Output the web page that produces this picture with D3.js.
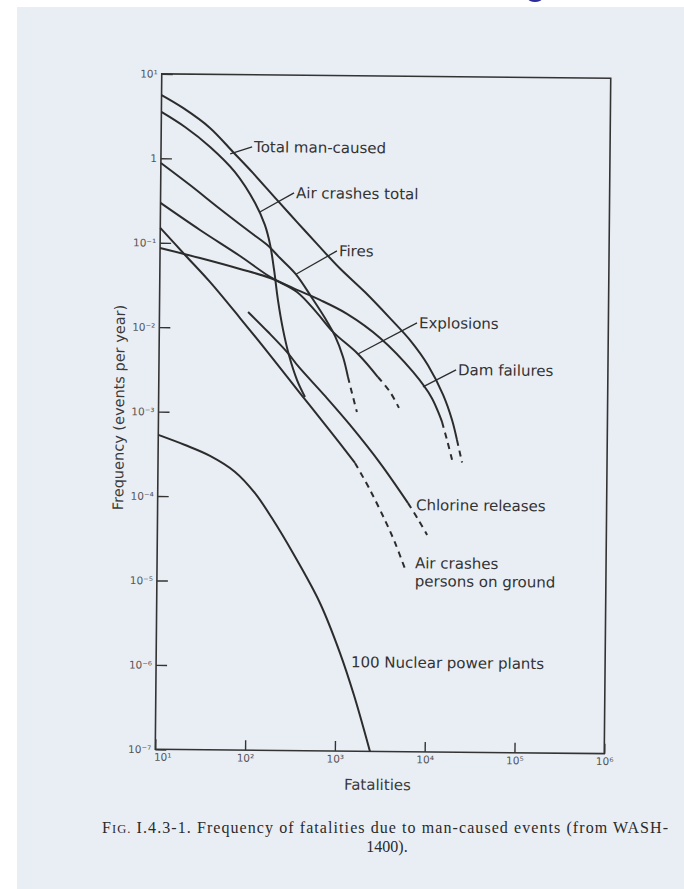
<!DOCTYPE html>
<html>
<head>
<meta charset="utf-8">
<script src="https://cdn.jsdelivr.net/npm/d3@7"></script>
<style>
  body { margin: 0; background: #fff; }
  svg { display: block; }
</style>
</head>
<body>
<svg width="684" height="889"></svg>
<script>
// axis ticks
const xTicks = [1e1, 1e2, 1e3, 1e4, 1e5, 1e6];
const xTickLabels = ["10¹", "10²", "10³", "10⁴", "10⁵", "10⁶"];
const yTicks = [1e1, 1, 1e-1, 1e-2, 1e-3, 1e-4, 1e-5, 1e-6, 1e-7];
const yTickLabels = ["10¹", "1", "10⁻¹", "10⁻²", "10⁻³", "10⁻⁴", "10⁻⁵", "10⁻⁶", "10⁻⁷"];

// curves as [fatalities, frequency]; the *Tail arrays are the dashed ends
const totalManCaused = [[10, 5.6], [17.4, 3.97], [34.9, 2.32], [63.4, 1.21], [106, 0.687], [198, 0.331],
  [333, 0.182], [558, 0.101], [1000, 0.0526], [1930, 0.0275], [3690, 0.0136], [6210, 0.0075],
  [9900, 0.0038], [14700, 0.0017], [18600, 8.6e-4], [21200, 5.0e-4]];
const totalManCausedTail = [[21200, 5.0e-4], [24300, 2.7e-4]];

const airCrashesTotal = [[10, 3.54], [18.4, 2.36], [35.2, 1.38], [67, 0.70], [113, 0.303], [146, 0.167],
  [168, 0.097], [187, 0.049], [208, 0.0216], [239, 0.0096], [280, 0.0048], [346, 0.00245], [426, 0.00155]];

const fires = [[10, 0.88], [21.2, 0.486], [46.1, 0.255], [100, 0.137], [155, 0.097], [217, 0.068],
  [328, 0.0438], [498, 0.0231], [697, 0.0134], [908, 0.0082], [1119, 0.00465], [1276, 0.0027]];
const firesTail = [[1276, 0.0027], [1420, 0.00175], [1620, 0.00104]];

const explosions = [[10, 0.296], [27.7, 0.143], [77.8, 0.0711], [169, 0.0405], [338, 0.0271], [567, 0.0154],
  [859, 0.0092], [1640, 0.00507], [2750, 0.00272]];
const explosionsTail = [[2750, 0.00272], [3760, 0.00182], [4750, 0.00118]];

const damFailures = [[10, 0.0867], [27.9, 0.0665], [78, 0.0499], [169, 0.0394], [338, 0.0286], [611, 0.0219],
  [1225, 0.0151], [2880, 0.0079], [6760, 0.00315], [11000, 0.00156], [14400, 8.1e-4]];
const damFailuresTail = [[14400, 8.1e-4], [16400, 5.0e-4], [18800, 2.9e-4]];

const chlorineReleases = [[97, 0.0155], [163, 0.009], [272, 0.0051], [353, 0.0036], [711, 0.0016],
  [1360, 7.3e-4], [2970, 2.6e-4], [6140, 8.8e-5]];
const chlorineReleasesTail = [[6140, 8.8e-5], [7960, 5.7e-5], [10100, 3.7e-5]];

const airCrashesGround = [[10, 0.150], [19, 0.0721], [36.2, 0.0348], [79, 0.0131], [172, 0.0048],
  [374, 0.00172], [817, 6.2e-4], [1560, 2.6e-4]];
const airCrashesGroundTail = [[1560, 2.6e-4], [2310, 1.25e-4], [3410, 5.5e-5], [4430, 3.0e-5], [5780, 1.46e-5]];

const nuclearPlants = [[10, 5.3e-4], [19.9, 4.05e-4], [37.9, 3.03e-4], [72.3, 1.97e-4], [121, 1.11e-4],
  [188, 5.65e-5], [325, 2.19e-5], [658, 5.65e-6], [1114, 1.45e-6], [1611, 4.6e-7], [2460, 1e-7]];

// curve labels: text lines, anchor [fatalities, frequency], leader end (or null)
const labelLines = [["Total man-caused"], ["Air crashes total"], ["Fires"], ["Explosions"], ["Dam failures"],
  ["Chlorine releases"], ["Air crashes", "persons on ground"], ["100 Nuclear power plants"]];
const labelAt = [[106, 1.4], [314, 0.403], [957, 0.0838], [7590, 0.012], [20900, 0.00337],
  [7350, 8.4e-5], [7260, 1.72e-5], [1442, 1.14e-6]];
const leaderTo = [[59, 1.15], [128, 0.237], [328, 0.0438], [1640, 0.00507], [8750, 0.0021], null, null, null];

const svg = d3.select("svg");

// scanned page background
svg.append("rect")
    .attr("x", 17).attr("y", 7)
    .attr("width", 667).attr("height", 882)
    .attr("fill", "#e9eef5");

// bit of the slide title peeking in at the top
svg.append("ellipse")
    .attr("cx", 535).attr("cy", -1.5)
    .attr("rx", 7).attr("ry", 3.5)
    .attr("fill", "#2b2b9c");

const plotLeft = 158.5, plotRight = 607.5, plotTop = 76, plotBottom = 751.5;

// the scan is slightly tilted
const g = svg.append("g")
    .attr("transform", "rotate(0.55, 383, 414)");

const x = d3.scaleLog()
    .domain([1e1, 1e6])
    .range([plotLeft, plotRight]);

const y = d3.scaleLog()
    .domain([1e-7, 1e1])
    .range([plotBottom, plotTop]);

const ink = "#2c2c2c";

g.append("rect")
    .attr("x", plotLeft).attr("y", plotTop)
    .attr("width", plotRight - plotLeft).attr("height", plotBottom - plotTop)
    .attr("fill", "none")
    .attr("stroke", "#333")
    .attr("stroke-width", 1.6);

const yAxis = g.append("g")
    .attr("transform", `translate(${plotLeft}, 0)`)
    .call(d3.axisLeft(y).tickValues(yTicks).tickSize(-11).tickPadding(4)
        .tickFormat((d, i) => yTickLabels[i]));

const xAxis = g.append("g")
    .attr("transform", `translate(0, ${plotBottom})`)
    .call(d3.axisBottom(x).tickValues(xTicks).tickSize(-10).tickPadding(4)
        .tickFormat((d, i) => xTickLabels[i]));

[yAxis, xAxis].forEach(ax => {
    ax.select(".domain").remove();
    ax.selectAll(".tick line").attr("stroke", "#333").attr("stroke-width", 1.4);
    ax.selectAll(".tick text")
        .attr("fill", "#555")
        .attr("font-family", "DejaVu Sans")
        .attr("font-size", "10.5px");
});
xAxis.selectAll(".tick text").attr("dx", (d, i) => i === 0 ? 7 : 0);

g.append("text")
    .attr("transform", "rotate(-90)")
    .attr("x", -410)
    .attr("y", 124)
    .attr("text-anchor", "middle")
    .attr("font-family", "DejaVu Sans")
    .attr("font-size", "14.5px")
    .attr("fill", "#3a3a3a")
    .text("Frequency (events per year)");

g.append("text")
    .attr("x", 381)
    .attr("y", 790)
    .attr("text-anchor", "middle")
    .attr("font-family", "DejaVu Sans")
    .attr("font-size", "15px")
    .attr("fill", "#3a3a3a")
    .text("Fatalities");

const line = d3.line()
    .x(d => x(d[0]))
    .y(d => y(d[1]))
    .curve(d3.curveCatmullRom.alpha(0.5));

const solids = [totalManCaused, airCrashesTotal, fires, explosions, damFailures,
    chlorineReleases, airCrashesGround, nuclearPlants];
const tails = [totalManCausedTail, firesTail, explosionsTail, damFailuresTail,
    chlorineReleasesTail, airCrashesGroundTail];

g.selectAll(".curve")
    .data(solids)
    .enter()
    .append("path")
    .attr("class", "curve")
    .attr("d", line)
    .attr("fill", "none")
    .attr("stroke", ink)
    .attr("stroke-width", 2);

g.selectAll(".tail")
    .data(tails)
    .enter()
    .append("path")
    .attr("class", "tail")
    .attr("d", line)
    .attr("fill", "none")
    .attr("stroke", ink)
    .attr("stroke-width", 2)
    .attr("stroke-dasharray", "6,5");

// leader lines
g.selectAll(".leader")
    .data(leaderTo.map((d, i) => [labelAt[i], d]).filter(d => d[1]))
    .enter()
    .append("line")
    .attr("class", "leader")
    .attr("x1", d => x(d[0][0]) - 1)
    .attr("y1", d => y(d[0][1]))
    .attr("x2", d => x(d[1][0]))
    .attr("y2", d => y(d[1][1]))
    .attr("stroke", ink)
    .attr("stroke-width", 1.3);

const labels = g.selectAll(".curve-label")
    .data(labelLines)
    .enter()
    .append("text")
    .attr("class", "curve-label")
    .attr("x", (d, i) => x(labelAt[i][0]) + 1)
    .attr("y", (d, i) => y(labelAt[i][1]))
    .attr("font-family", "DejaVu Sans")
    .attr("font-size", "15px")
    .attr("fill", "#333");

labels.selectAll("tspan")
    .data((d, i) => d.map(t => ({ t: t, i: i })))
    .enter()
    .append("tspan")
    .attr("x", d => x(labelAt[d.i][0]) + 1)
    .attr("dy", (d, j) => j === 0 ? "0.35em" : "1.2em")
    .text(d => d.t);

// figure caption
const cap = svg.append("text")
    .attr("x", 102)
    .attr("y", 833)
    .attr("font-family", "Liberation Serif")
    .attr("font-size", "16px")
    .attr("fill", "#2a2a2a")
    .attr("textLength", 566)
    .attr("lengthAdjust", "spacing");
cap.append("tspan").text("F");
cap.append("tspan").attr("font-size", "12.5px").text("IG.");
cap.append("tspan").text(" I.4.3-1. Frequency of fatalities due to man-caused events (from WASH-");

svg.append("text")
    .attr("x", 387)
    .attr("y", 852)
    .attr("text-anchor", "middle")
    .attr("font-family", "Liberation Serif")
    .attr("font-size", "16px")
    .attr("fill", "#2a2a2a")
    .text("1400).");
</script>
</body>
</html>
